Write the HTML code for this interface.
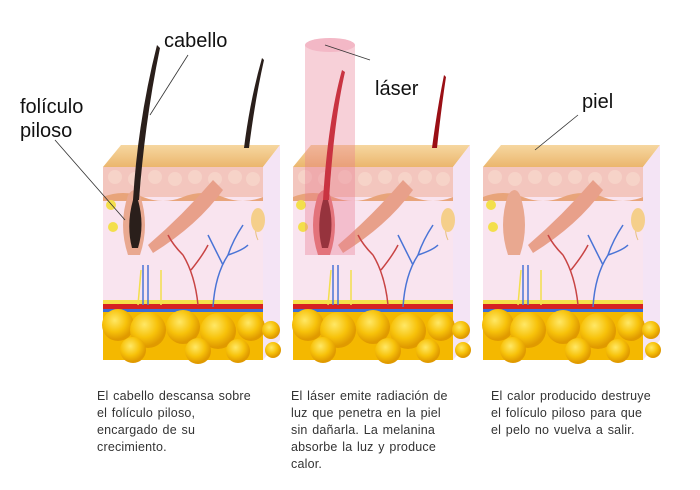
<!DOCTYPE html>
<html><head><meta charset="utf-8"><style>
body{margin:0;background:#fff;width:700px;height:490px;overflow:hidden;font-family:"Liberation Sans",sans-serif;}
.t{position:absolute;font-size:12.5px;line-height:17px;color:#333;letter-spacing:0.2px;word-spacing:1px;}
.l{position:absolute;font-size:20px;color:#111;}
</style></head><body>
<svg width="700" height="490" style="position:absolute;left:0;top:0">
<defs>
<radialGradient id="fat" cx="40%" cy="35%" r="60%"><stop offset="0" stop-color="#ffe866"/><stop offset="0.6" stop-color="#f7c20a"/><stop offset="1" stop-color="#e09a00"/></radialGradient>
<linearGradient id="top" x1="0" y1="0" x2="0" y2="1"><stop offset="0" stop-color="#f6d7a0"/><stop offset="1" stop-color="#ebb66d"/></linearGradient>
<g id="blk">
  <polygon points="0,22 18,0 177,0 160,22" fill="url(#top)"/>
  <polygon points="160,22 177,0 177,195 160,215" fill="#f4e4f5"/>
  <rect x="0" y="22" width="160" height="140" fill="#f9e4ef"/>
  <rect x="0" y="22" width="160" height="30" fill="#f3c6be"/>
  <g fill="#f6d3c8"><circle cx="12" cy="32" r="7"/><circle cx="32" cy="34" r="7"/><circle cx="52" cy="32" r="7"/><circle cx="72" cy="34" r="7"/><circle cx="92" cy="32" r="7"/><circle cx="112" cy="34" r="7"/><circle cx="132" cy="32" r="7"/><circle cx="150" cy="34" r="7"/></g>
  <path d="M0,52 Q20,44 40,52 T80,52 T120,52 T160,52 L160,56 L0,56Z" fill="#e8a47a"/>
  <rect x="0" y="155" width="160" height="4" fill="#f6e04a"/>
  <rect x="0" y="159" width="160" height="5" fill="#d62222"/>
  <rect x="0" y="164" width="160" height="3" fill="#3b6fd8"/>
  <rect x="0" y="167" width="160" height="48" fill="#f4b800"/>
  <circle cx="15" cy="180" r="16" fill="url(#fat)"/><circle cx="45" cy="185" r="18" fill="url(#fat)"/>
  <circle cx="80" cy="182" r="17" fill="url(#fat)"/><circle cx="115" cy="186" r="18" fill="url(#fat)"/>
  <circle cx="148" cy="182" r="14" fill="url(#fat)"/><circle cx="30" cy="205" r="13" fill="url(#fat)"/>
  <circle cx="95" cy="206" r="13" fill="url(#fat)"/><circle cx="135" cy="206" r="12" fill="url(#fat)"/>
  <circle cx="168" cy="185" r="9" fill="url(#fat)"/><circle cx="170" cy="205" r="8" fill="url(#fat)"/>
  <path d="M45,100 Q80,70 110,35 L120,45 Q95,80 50,108Z" fill="#e8a08a"/>
  <g fill="none" stroke-width="1.5">
   <path d="M95,160 Q92,130 80,110 M80,110 Q70,100 65,90 M88,125 Q100,110 105,100" stroke="#c84444"/>
   <path d="M110,162 Q112,130 125,110 Q130,95 140,80 M120,120 Q110,100 105,90 M125,110 Q140,105 145,100" stroke="#4a74d6"/>
   <path d="M58,160 L58,125 M35,160 L38,125" stroke="#f3df4c"/>
   <path d="M45,160 L45,120 M40,160 L40,120" stroke="#4a74d6"/>
  </g>
  <path d="M155,70 Q150,85 155,95" stroke="#e8c080" fill="none"/>
  <ellipse cx="155" cy="75" rx="7" ry="12" fill="#f5cf8a"/>
  <circle cx="8" cy="60" r="5" fill="#f3df4c"/><circle cx="10" cy="82" r="5" fill="#f3df4c"/>
</g>
</defs>
<use href="#blk" x="103" y="145"/>
<path d="M128,255 Q118,225 128,195 Q135,185 140,195 Q150,225 140,255Z" fill="#e9a890"/>
<path d="M132,248 Q126,225 133,200 L138,200 Q145,225 138,248Z" fill="#2a1f1b"/>
<path d="M133,200 Q138,120 157,45 L160,48 Q145,120 139,200Z" fill="#2a1f1b"/>
<path d="M244,148 Q250,100 262,58 L264,60 Q255,100 249,148Z" fill="#2a1f1b"/>
<use href="#blk" x="293" y="145"/>
<path d="M318,255 Q308,225 318,195 Q325,185 330,195 Q340,225 330,255Z" fill="#e07070"/>
<path d="M322,248 Q316,225 323,200 L328,200 Q335,225 328,248Z" fill="#6b0f12"/>
<path d="M323,200 Q328,120 342,70 L345,72 Q334,120 329,200Z" fill="#b80f18"/>
<path d="M432,148 Q437,110 444,75 L446,77 Q441,110 437,148Z" fill="#9a0f15"/>
<rect x="305" y="45" width="50" height="210" fill="#e87890" opacity="0.35"/>
<ellipse cx="330" cy="45" rx="25" ry="7" fill="#f3b8c6"/>
<use href="#blk" x="483" y="145"/>
<path d="M508,255 Q498,225 508,195 Q515,185 520,195 Q530,225 520,255Z" fill="#e9a890"/>
<g stroke="#333" stroke-width="0.8">
<line x1="188" y1="55" x2="150" y2="115"/>
<line x1="55" y1="140" x2="125" y2="220"/>
<line x1="370" y1="60" x2="325" y2="45"/>
<line x1="578" y1="115" x2="535" y2="150"/>
</g>
</svg>
<div class="l" style="left:164px;top:30px">cabello</div>
<div class="l" style="left:20px;top:95px;line-height:24px">folículo<br>piloso</div>
<div class="l" style="left:375px;top:78px">láser</div>
<div class="l" style="left:582px;top:91px">piel</div>
<div class="t" style="left:97px;top:388px;width:185px">El cabello descansa sobre<br>el folículo piloso,<br>encargado de su<br>crecimiento.</div>
<div class="t" style="left:291px;top:388px;width:185px">El láser emite radiación de<br>luz que penetra en la piel<br>sin dañarla. La melanina<br>absorbe la luz y produce<br>calor.</div>
<div class="t" style="left:491px;top:388px;width:185px">El calor producido destruye<br>el folículo piloso para que<br>el pelo no vuelva a salir.</div>
</body></html>
